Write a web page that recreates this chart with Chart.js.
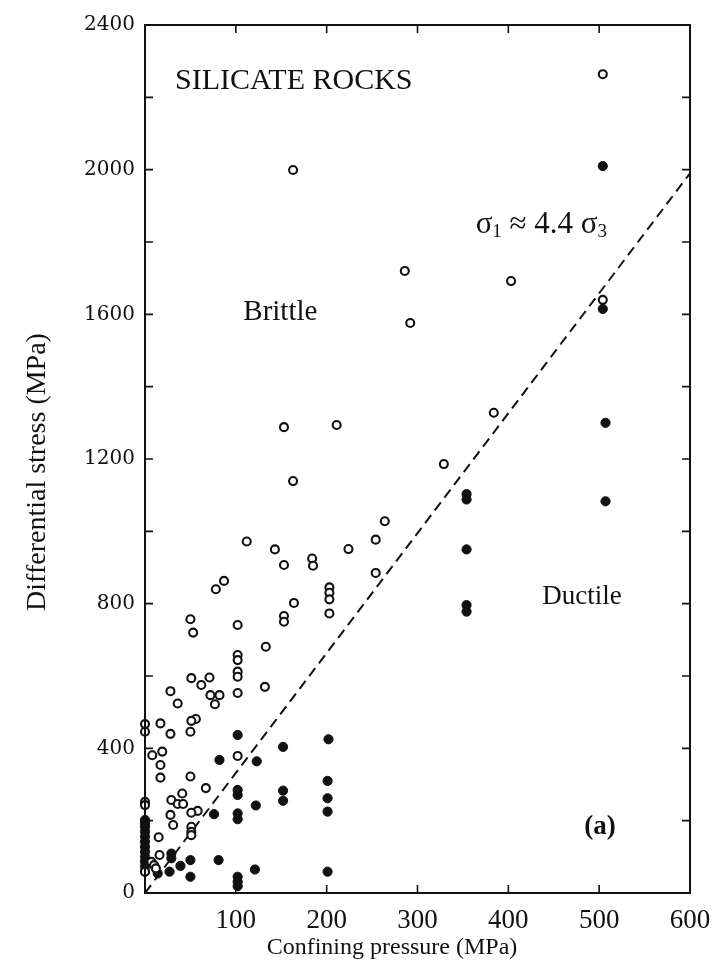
<!DOCTYPE html>
<html>
<head>
<meta charset="utf-8">
<script src="https://cdn.jsdelivr.net/npm/chart.js@4.4.0/dist/chart.umd.min.js"></script>
<style>
  html, body { margin: 0; padding: 0; background: #fff; }
  #wrap { width: 722px; height: 977px; }
</style>
</head>
<body>
<div id="wrap"><canvas id="rockChart" width="722" height="977"></canvas></div>
<script>
// --------------------- Data ---------------------
const xTicks = [0, 100, 200, 300, 400, 500, 600];
const yTicks = [0, 400, 800, 1200, 1600, 2000, 2400];

// open circles = brittle failure
const brittleX = [504, 163, 286, 403, 292, 504, 384, 211, 153, 329, 163, 264, 112, 254, 143, 224, 184, 185, 153, 254,
  87, 78, 203, 203, 203, 164, 203, 50, 53, 153, 153, 102, 133, 102, 102, 102, 102, 51, 71, 62,
  132, 28, 102, 72, 82, 36, 77, 56, 51, 0, 17, 0, 50, 28, 19, 8, 102, 17, 50, 17,
  67, 41, 29, 36, 42, 58, 51, 28, 31, 51, 51, 51, 15, 16, 7, 10, 12, 0, 0, 0];
const brittleY = [2264, 1999, 1720, 1692, 1576, 1640, 1328, 1294, 1288, 1186, 1139, 1028, 972, 977, 950, 951, 925, 905, 907, 885,
  863, 840, 845, 830, 812, 802, 773, 757, 720, 766, 750, 741, 681, 658, 644, 612, 598, 594, 596, 575,
  570, 558, 553, 547, 547, 524, 522, 481, 476, 467, 469, 446, 446, 440, 391, 381, 379, 354, 322, 319,
  290, 275, 257, 246, 246, 227, 222, 216, 188, 183, 169, 160, 154, 105, 86, 77, 68, 252, 243, 59];

// filled circles = ductile flow
const ductileX = [504, 504, 507, 507, 354, 354, 354, 354, 354, 202, 102, 152, 82, 123, 102, 102, 152, 152, 201, 201,
  201, 122, 102, 102, 76, 29, 29, 81, 121, 102, 102, 102, 201, 14, 27, 39, 50, 50,
  0, 0, 0, 0, 0, 0, 0, 0, 0, 0, 0, 0];
const ductileY = [2010, 1615, 1300, 1083, 1103, 1088, 950, 796, 778, 425, 437, 404, 368, 364, 285, 271, 283, 255, 310, 262,
  225, 242, 220, 204, 218, 109, 96, 91, 65, 45, 31, 19, 59, 54, 59, 75, 91, 45,
  202, 193, 183, 170, 156, 142, 128, 114, 100, 87, 73, 59];

// brittle-ductile transition, sigma1 ~ 4.4 sigma3
const boundaryX = [0, 600];
const boundaryY = [0, 1990];

const toPoints = (xs, ys) => xs.map((x, i) => ({ x: x, y: ys[i] }));

// --------------------- Plugins ---------------------
const frameAndTicks = {
  id: "frameAndTicks",
  afterDraw(chart) {
    const { ctx, chartArea: a, scales } = chart;
    ctx.save();
    ctx.strokeStyle = "#111";
    ctx.lineWidth = 2;
    ctx.strokeRect(a.left, a.top, a.right - a.left, a.bottom - a.top);
    ctx.lineWidth = 1.6;
    const len = 8;
    for (let v = 100; v < 600; v += 100) {
      const px = scales.x.getPixelForValue(v);
      ctx.beginPath();
      ctx.moveTo(px, a.bottom); ctx.lineTo(px, a.bottom - len);
      ctx.moveTo(px, a.top); ctx.lineTo(px, a.top + len);
      ctx.stroke();
    }
    for (let v = 200; v < 2400; v += 200) {
      const py = scales.y.getPixelForValue(v);
      ctx.beginPath();
      ctx.moveTo(a.left, py); ctx.lineTo(a.left + len, py);
      ctx.moveTo(a.right, py); ctx.lineTo(a.right - len, py);
      ctx.stroke();
    }
    ctx.restore();
  }
};

const notes = {
  id: "notes",
  afterDraw(chart) {
    const { ctx, scales } = chart;
    const X = v => scales.x.getPixelForValue(v);
    const Y = v => scales.y.getPixelForValue(v);
    ctx.save();
    ctx.fillStyle = "#111";
    ctx.textBaseline = "middle";
    ctx.font = "30px 'Liberation Serif'";
    ctx.textAlign = "left";
    ctx.fillText("SILICATE ROCKS", X(33), Y(2245));
    ctx.textAlign = "center";
    ctx.font = "29px 'Liberation Serif'";
    ctx.fillText("Brittle", X(149), Y(1606));
    ctx.font = "27px 'Liberation Serif'";
    ctx.fillText("Ductile", X(481), Y(818));
    ctx.font = "bold 27px 'Liberation Serif'";
    ctx.fillText("(a)", X(501), Y(182));

    // sigma1 ~ 4.4 sigma3 with subscripts
    ctx.textAlign = "left";
    let x = X(364), y = Y(1847);
    const big = "31px 'Liberation Serif'", small = "19px 'Liberation Serif'";
    const parts = [["σ", big, 0], ["1", small, 7], [" ≈ 4.4 ", big, 0], ["σ", big, 0], ["3", small, 7]];
    parts.forEach(([t, f, dy]) => {
      ctx.font = f;
      ctx.fillText(t, x, y + dy);
      x += ctx.measureText(t).width;
    });

    // axis titles
    ctx.textAlign = "center";
    ctx.font = "24px 'Liberation Serif'";
    ctx.fillText("Confining pressure (MPa)", 392, 948);
    ctx.translate(38, 472);
    ctx.rotate(-Math.PI / 2);
    ctx.font = "28px 'Liberation Serif'";
    ctx.fillText("Differential stress (MPa)", 0, 0);
    ctx.restore();
  }
};

// --------------------- Chart ---------------------
new Chart(document.getElementById("rockChart"), {
  type: "scatter",
  data: {
    datasets: [
      {
        label: "Brittle",
        data: toPoints(brittleX, brittleY),
        pointStyle: "circle",
        pointRadius: 4,
        pointBorderWidth: 2.1,
        borderColor: "#111",
        backgroundColor: "#fff",
        clip: false
      },
      {
        label: "Ductile",
        data: toPoints(ductileX, ductileY),
        pointStyle: "circle",
        pointRadius: 4.6,
        pointBorderWidth: 1,
        borderColor: "#111",
        backgroundColor: "#111",
        clip: false
      },
      {
        type: "line",
        label: "Boundary",
        data: toPoints(boundaryX, boundaryY),
        borderColor: "#111",
        borderWidth: 2,
        borderDash: [10, 6],
        pointRadius: 0,
        fill: false
      }
    ]
  },
  options: {
    responsive: false,
    animation: false,
    layout: { padding: { top: 25, right: 32, left: 0, bottom: 0 } },
    plugins: { legend: { display: false }, tooltip: { enabled: false } },
    scales: {
      x: {
        type: "linear",
        min: xTicks[0],
        max: xTicks[xTicks.length - 1],
        afterBuildTicks: s => { s.ticks = xTicks.map(v => ({ value: v })); },
        afterFit: s => { s.height = 84; },
        grid: { display: false },
        border: { display: false },
        ticks: {
          color: "#111",
          padding: 4,
          font: { family: "'Liberation Serif'", size: 27 },
          callback: v => (v === 0 ? "" : String(v))
        }
      },
      y: {
        type: "linear",
        min: yTicks[0],
        max: yTicks[yTicks.length - 1],
        afterBuildTicks: s => { s.ticks = yTicks.map(v => ({ value: v })); },
        afterFit: s => { s.width = 145; },
        grid: { display: false },
        border: { display: false },
        ticks: {
          color: "#111",
          padding: 2,
          font: { family: "'DejaVu Serif'", size: 20 },
          callback: v => String(v)
        }
      }
    }
  },
  plugins: [frameAndTicks, notes]
});
</script>
</body>
</html>
